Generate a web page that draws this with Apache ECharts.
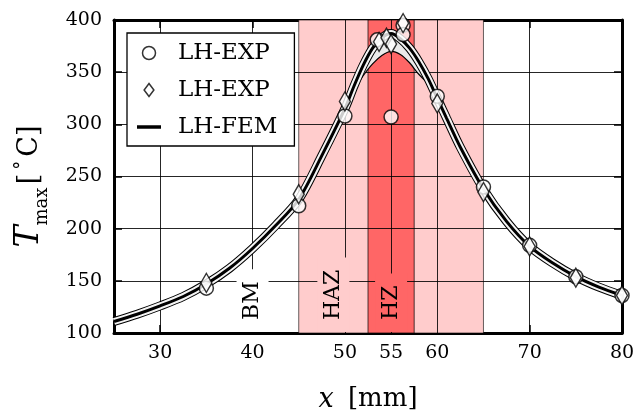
<!DOCTYPE html>
<html>
<head>
<meta charset="utf-8">
<script src="https://cdn.jsdelivr.net/npm/echarts@6/dist/echarts.min.js"></script>
<style>
html,body{margin:0;padding:0;background:#fff;}
#c{width:638px;height:414px;}
</style>
</head>
<body>
<div id="c"></div>
<script>
// ---- data ----
const xTicks = [30, 40, 50, 55, 60, 70, 80];
const gridX = [30, 40, 50, 55, 60, 70];
const gridY = [150, 200, 250, 300, 350];
const hazRange = [45, 65];
const hzRange = [52.5, 57.5];
const zoneX = [40, 48.75, 55];
const zoneNames = ['BM', 'HAZ', 'HZ'];

const expCircleX = [35, 45, 50, 53.5, 55, 56.3, 56.3, 60, 65, 70, 75, 80];
const expCircleT = [143, 222, 308, 381, 307, 395, 386, 327, 240, 184, 154, 136];
const expDiamondX = [35, 45, 50, 53.7, 54.5, 55, 56.3, 60, 65, 70, 75, 80];
const expDiamondT = [148, 233, 322, 379, 383, 377, 397, 320, 235, 183, 153, 136];

const femX = [25, 27.5, 30, 32.5, 35, 37.5, 40, 42.5, 45, 47.5, 50, 51, 52, 53, 54, 55, 56, 57, 58, 59, 60, 61, 62.5, 65, 67.5, 70, 72.5, 75, 77.5, 80];
const femT = [111, 118, 126, 135, 147, 162, 181, 203, 228, 270, 315, 337, 357, 373, 383, 387, 382, 373, 360, 344, 325, 306, 278, 238, 207, 183, 167, 154, 144, 136];

const bandX = [51, 52, 53, 54, 55, 56, 57, 58, 59];
const bandLowT = [334, 347, 358, 366, 370, 367, 359, 348, 340];

const legendLabels = { exp1: 'LH-EXP', exp2: 'LH-EXP', fem: 'LH-FEM' };

// ---- chart ----
const FONT = 'DejaVu Serif';
const chart = echarts.init(document.getElementById('c'), null, { renderer: 'canvas' });
const femData = femX.map((x, i) => [x, femT[i]]);
const regionColors = { BM: '#ffffff', HAZ: '#ffcccc', HZ: '#ff6666' };
const markerStyle = { color: '#fff', borderColor: '#000', borderWidth: 1.5 };

function femTAt(x) {
  return femT[femX.indexOf(x)];
}

const measureCtx = document.createElement('canvas').getContext('2d');
const ZONE_FONT = '22px "DejaVu Serif"';

const option = {
  animation: false,
  backgroundColor: '#fff',
  grid: { left: 114, right: 16, top: 20, bottom: 81, containLabel: false, outerBoundsMode: 'none' },
  legend: {
    orient: 'vertical',
    left: 127, top: 33,
    padding: [8, 17, 7, 10],
    backgroundColor: '#fff',
    borderColor: '#000', borderWidth: 1.3, borderRadius: 0,
    itemWidth: 24, itemHeight: 13, itemGap: 13,
    textStyle: { fontFamily: FONT, fontSize: 23, color: '#000', lineHeight: 24, padding: [0, 0, 0, 12] },
    formatter: n => legendLabels[n],
    data: [
      { name: 'exp1', icon: 'circle', itemStyle: markerStyle },
      { name: 'exp2', icon: 'path://M6,0L12,8L6,16L0,8Z', itemStyle: markerStyle },
      { name: 'fem', icon: 'path://M0,0H24V3.5H0Z', itemStyle: { color: '#000', borderWidth: 0 } }
    ],
    selectedMode: false
  },
  xAxis: [{
    type: 'value', min: 25, max: 80, position: 'bottom',
    axisLine: { show: true, onZero: false, lineStyle: { color: '#000', width: 3 } },
    axisTick: { show: true, inside: true, length: 8, customValues: xTicks, lineStyle: { color: '#000', width: 1.5 } },
    axisLabel: { customValues: xTicks, fontFamily: FONT, fontSize: 19, color: '#000', margin: 11 },
    splitLine: { show: false },
    name: '{i|x}{n| [mm]}',
    nameLocation: 'middle', nameGap: 53,
    nameTextStyle: {
      rich: {
        i: { fontFamily: FONT, fontStyle: 'italic', fontSize: 27, color: '#000' },
        n: { fontFamily: FONT, fontSize: 26, color: '#000', padding: [0, 0, 0, 6] }
      }
    }
  }, {
    type: 'value', min: 25, max: 80, position: 'top',
    axisLine: { show: true, onZero: false, lineStyle: { color: '#000', width: 3 } },
    axisTick: { show: true, inside: true, length: 8, customValues: xTicks, lineStyle: { color: '#000', width: 1.5 } },
    axisLabel: { show: false },
    splitLine: { show: false }
  }],
  yAxis: [{
    type: 'value', min: 100, max: 400, interval: 50, position: 'left',
    axisLine: { show: true, onZero: false, lineStyle: { color: '#000', width: 3 } },
    axisTick: { show: true, inside: true, length: 8, lineStyle: { color: '#000', width: 1.5 } },
    axisLabel: { fontFamily: FONT, fontSize: 19, color: '#000', margin: 12 },
    splitLine: { show: false },
    name: '{t|T}{s|max} {b|[}{d|°}{b|C]}',
    nameLocation: 'middle', nameRotate: 90, nameGap: 63,
    nameTextStyle: {
      padding: [0, 20, 0, 0],
      rich: {
        t: { fontFamily: FONT, fontStyle: 'italic', fontSize: 33, color: '#000', lineHeight: 38, verticalAlign: 'top' },
        s: { fontFamily: FONT, fontSize: 18, color: '#000', lineHeight: 20, verticalAlign: 'bottom' },
        b: { fontFamily: FONT, fontSize: 27, color: '#000', lineHeight: 34, verticalAlign: 'top', padding: [3, 0, 0, 0] },
        d: { fontFamily: FONT, fontSize: 18, color: '#000', lineHeight: 34, verticalAlign: 'top', padding: [0, 4, 0, 4] }
      }
    }
  }, {
    type: 'value', min: 100, max: 400, interval: 50, position: 'right',
    axisLine: { show: true, onZero: false, lineStyle: { color: '#000', width: 3 } },
    axisTick: { show: true, inside: true, length: 8, lineStyle: { color: '#000', width: 1.5 } },
    axisLabel: { show: false },
    splitLine: { show: false }
  }],
  series: [
    {
      name: 'regions', type: 'line', data: [], z: 1, silent: true,
      markArea: {
        silent: true, z: 1,
        data: [
          [{ xAxis: hazRange[0], itemStyle: { color: regionColors.HAZ, borderColor: 'rgba(0,0,0,0.6)', borderWidth: 1 } }, { xAxis: hazRange[1] }],
          [{ xAxis: hzRange[0], itemStyle: { color: regionColors.HZ, borderColor: 'rgba(0,0,0,0.7)', borderWidth: 1 } }, { xAxis: hzRange[1] }]
        ]
      }
    },
    {
      name: 'grid', type: 'line', data: [], z: 2, silent: true,
      markLine: {
        silent: true, z: 2, symbol: ['none', 'none'], label: { show: false },
        lineStyle: { color: '#000', width: 1, type: 'solid', opacity: 0.85 },
        emphasis: { disabled: true },
        data: gridX.map(v => ({ xAxis: v })).concat(gridY.map(v => ({ yAxis: v })))
      }
    },
    {
      name: 'zones', type: 'custom', z: 3, silent: true,
      data: zoneX.map((x, i) => [x, 101, i]),
      renderItem: (params, api) => {
        const p = api.coord([api.value(0), api.value(1)]);
        const nm = zoneNames[api.value(2)];
        measureCtx.font = ZONE_FONT;
        const tw = measureCtx.measureText(nm).width;
        const padL = 12, padR = 12, boxH = 32;
        return {
          type: 'group', x: p[0], y: p[1], rotation: Math.PI / 2,
          children: [
            { type: 'rect', shape: { x: 0, y: -boxH / 2, width: tw + padL + padR, height: boxH },
              style: { fill: regionColors[nm] } },
            { type: 'text', x: padL, y: 0,
              style: { text: nm, fill: '#000', font: ZONE_FONT, align: 'left', verticalAlign: 'middle' } }
          ]
        };
      }
    },
    {
      name: 'band', type: 'custom', z: 4, silent: true, data: [0],
      renderItem: (params, api) => {
        const pts = [];
        bandX.forEach(x => pts.push(api.coord([x, femTAt(x)])));
        for (let i = bandX.length - 1; i >= 0; i--) pts.push(api.coord([bandX[i], bandLowT[i]]));
        return { type: 'polygon', shape: { points: pts, smooth: 0.3 }, style: { fill: '#ebebeb', stroke: '#000', lineWidth: 1.2 } };
      }
    },
    {
      name: 'femOutline', type: 'line', z: 5, silent: true, data: femData, smooth: 0.3,
      showSymbol: false, symbol: 'none', lineStyle: { color: '#000', width: 9 }
    },
    {
      name: 'femBand', type: 'line', z: 6, silent: true, data: femData, smooth: 0.3,
      showSymbol: false, symbol: 'none', lineStyle: { color: '#f4f4f4', width: 7 }
    },
    {
      name: 'fem', type: 'line', z: 7, silent: true, data: femData, smooth: 0.3,
      showSymbol: false, symbol: 'none', itemStyle: { color: '#000' }, lineStyle: { color: '#000', width: 3 }
    },
    {
      name: 'exp1', type: 'scatter', z: 8, silent: true,
      symbol: 'circle', symbolSize: 14,
      itemStyle: markerStyle,
      data: expCircleX.map((x, i) => [x, expCircleT[i]])
    },
    {
      name: 'exp2', type: 'scatter', z: 9, silent: true,
      symbol: 'diamond', symbolSize: [11, 19],
      itemStyle: markerStyle,
      data: expDiamondX.map((x, i) => [x, expDiamondT[i]])
    }
  ]
};
chart.setOption(option);
</script>
</body>
</html>
